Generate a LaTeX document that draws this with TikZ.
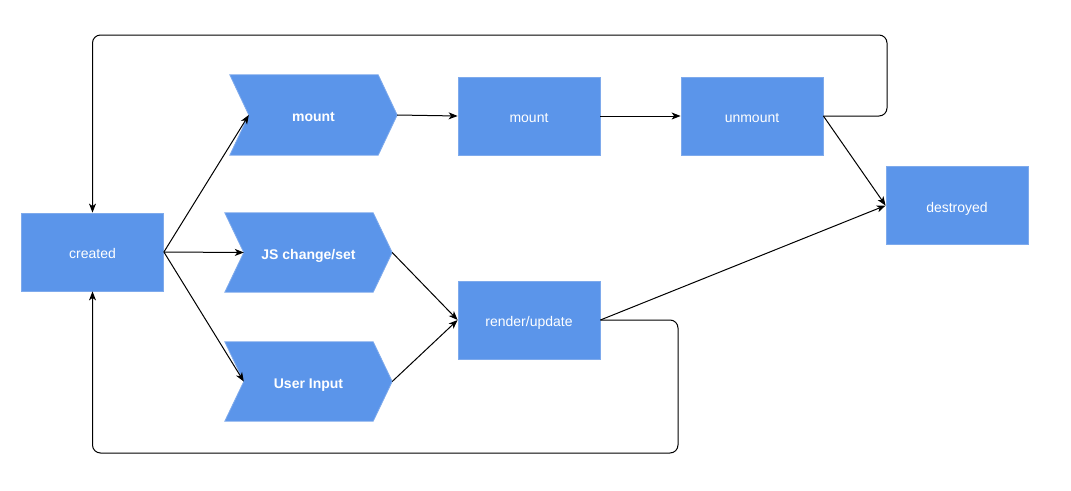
\documentclass[tikz,border=0pt]{standalone}
\usepackage{fontspec}
\setmainfont{Liberation Sans}
\usetikzlibrary{arrows.meta,backgrounds}
\definecolor{boxblue}{RGB}{91,149,234}
\definecolor{boxedge}{RGB}{126,170,236}
\tikzset{
  box/.style={rectangle, fill=boxblue, draw=boxedge, line width=0.8pt,
    minimum width=142pt, minimum height=78pt, inner sep=0pt, text=white,
    text height=14pt, text depth=1pt,
    font=\fontsize{14}{16}\selectfont},
  chevbox/.style={rectangle, minimum width=167pt, minimum height=80pt,
    inner sep=0pt, text=white, text height=14pt, text depth=1pt,
    font=\bfseries\fontsize{14}{16}\selectfont},
  chevfill/.style={fill=boxblue, draw=boxedge, line width=0.8pt},
  conn/.style={draw=black, line width=1pt, -{Stealth[length=9pt,width=7pt,inset=2.5pt]}},
  loop/.style={conn, rounded corners=8pt}
}
% chevron outline behind a named text node; (#1-in) is the notch point
\newcommand{\chevron}[1]{%
  \begin{scope}[on background layer]
    \path[chevfill] (#1.north west) -- ([xshift=-19pt]#1.north east) -- (#1.east)
      -- ([xshift=-19pt]#1.south east) -- (#1.south west)
      -- ([xshift=19pt]#1.west) -- cycle;
  \end{scope}
  \coordinate (#1-in) at ([xshift=19pt]#1.west);
}
\begin{document}
\begin{tikzpicture}[x=1pt,y=-1pt]
  \begin{scope}[on background layer]
    \fill[white] (0,0) rectangle (1071,490);
  \end{scope}
  \useasboundingbox (0,0) rectangle (1071,490);

  % state boxes
  \node[box] (created)   at (92.5,252) {created};
  \node[box] (mountR)    at (529,116)  {mount};
  \node[box] (unmount)   at (752,116)  {unmount};
  \node[box] (render)    at (529,320)  {render/update};
  \node[box] (destroyed) at (957,205.5) {destroyed};

  % triggers
  \node[chevbox] (mountC) at (313.5,115) {mount};
  \chevron{mountC}
  \node[chevbox, minimum height=79pt] (jsC) at (308.5,252.5) {JS change/set};
  \chevron{jsC}
  \node[chevbox, minimum height=79pt] (uiC) at (308.5,381.5) {User Input};
  \chevron{uiC}

  % flow
  \draw[conn] (created.east) -- (mountC-in);
  \draw[conn] (created.east) -- (jsC-in);
  \draw[conn] (created.east) -- (uiC-in);
  \draw[conn] (mountC.east) -- (mountR.west);
  \draw[conn] (mountR.east) -- (unmount.west);
  \draw[conn] (unmount.east) -- (destroyed.west);
  \draw[conn] (jsC.east) -- (render.west);
  \draw[conn] (uiC.east) -- (render.west);
  \draw[conn] (render.east) -- (destroyed.west);

  % loops back to created
  \coordinate (loopTop) at (887,35);
  \coordinate (loopBot) at (678,453);
  \draw[loop] (unmount.east) -| (loopTop) -| (created.north);
  \draw[loop] (render.east) -| (loopBot) -| (created.south);
\end{tikzpicture}
\end{document}
